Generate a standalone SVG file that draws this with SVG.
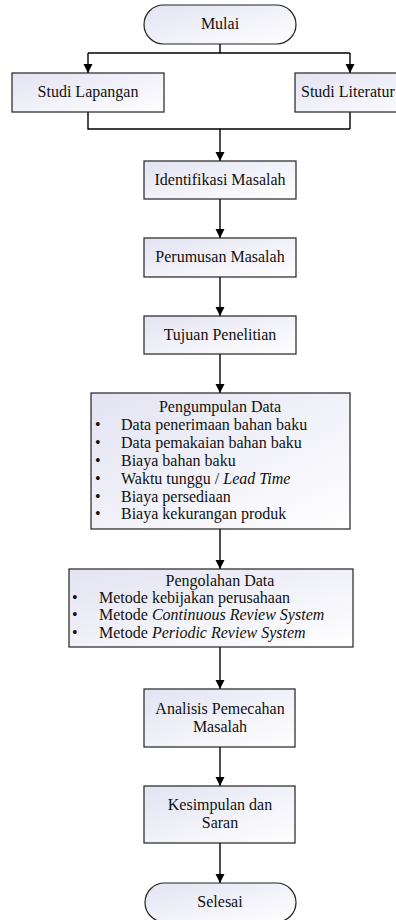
<svg xmlns="http://www.w3.org/2000/svg" width="396" height="920" viewBox="0 0 396 920">
<defs>
<linearGradient id="g" x1="0" y1="0" x2="1" y2="1">
<stop offset="0" stop-color="#e3e3f3"/>
<stop offset="1" stop-color="#ffffff"/>
</linearGradient>
<marker id="ah" viewBox="0 0 10 10" refX="10" refY="5" markerWidth="9" markerHeight="10" markerUnits="userSpaceOnUse" orient="auto">
<path d="M0,0 L10,5 L0,10 z" fill="#000"/>
</marker>
</defs>
<rect width="396" height="920" fill="#fff"/>
<g id="connectors" stroke="#000" stroke-width="1.4" fill="none">
<path d="M220,44 V53 M88,53 H350"/>
<path d="M88,53 V73" marker-end="url(#ah)"/>
<path d="M350,53 V73" marker-end="url(#ah)"/>
<path d="M88,112 V129 H350 M350,112 V129"/>
<path d="M220,129 V161" marker-end="url(#ah)"/>
<path d="M220,199 V238" marker-end="url(#ah)"/>
<path d="M220,277 V316" marker-end="url(#ah)"/>
<path d="M220,354 V393" marker-end="url(#ah)"/>
<path d="M220,529 V569" marker-end="url(#ah)"/>
<path d="M220,647 V689" marker-end="url(#ah)"/>
<path d="M220,747 V786" marker-end="url(#ah)"/>
<path d="M220,843 V883" marker-end="url(#ah)"/>
</g>
<g id="nodes" font-size="16" font-family="Liberation Serif, serif">
<g id="mulai">
<rect fill="url(#g)" stroke="#222" stroke-width="1.2" x="144" y="5" width="152" height="39" rx="19.5"/>
<text font-family="Liberation Serif, serif" fill="#111" text-anchor="middle" x="220" y="29">Mulai</text>
</g>
<g id="studi-lapangan">
<rect fill="url(#g)" stroke="#222" stroke-width="1.2" x="12" y="73" width="152" height="39"/>
<text font-family="Liberation Serif, serif" fill="#111" text-anchor="middle" x="88" y="97">Studi Lapangan</text>
</g>
<g id="studi-literatur">
<rect fill="url(#g)" stroke="#222" stroke-width="1.2" x="295" y="73" width="152" height="39"/>
<text font-family="Liberation Serif, serif" fill="#111" x="301" y="97">Studi Literatur</text>
</g>
<g id="identifikasi">
<rect fill="url(#g)" stroke="#222" stroke-width="1.2" x="144" y="161" width="152" height="38"/>
<text font-family="Liberation Serif, serif" fill="#111" text-anchor="middle" x="220" y="185">Identifikasi Masalah</text>
</g>
<g id="perumusan">
<rect fill="url(#g)" stroke="#222" stroke-width="1.2" x="144" y="238" width="152" height="39"/>
<text font-family="Liberation Serif, serif" fill="#111" text-anchor="middle" x="220" y="262">Perumusan Masalah</text>
</g>
<g id="tujuan">
<rect fill="url(#g)" stroke="#222" stroke-width="1.2" x="144" y="316" width="152" height="38"/>
<text font-family="Liberation Serif, serif" fill="#111" text-anchor="middle" x="220" y="340">Tujuan Penelitian</text>
</g>
<g id="pengumpulan">
<rect fill="url(#g)" stroke="#222" stroke-width="1.2" x="91" y="393" width="259" height="136"/>
<text font-family="Liberation Serif, serif" fill="#111" text-anchor="middle" x="220" y="412">Pengumpulan Data</text>
<text font-family="Liberation Serif, serif" fill="#111" x="95" y="430">•</text>
<text font-family="Liberation Serif, serif" fill="#111" x="121" y="430">Data penerimaan bahan baku</text>
<text font-family="Liberation Serif, serif" fill="#111" x="95" y="448">•</text>
<text font-family="Liberation Serif, serif" fill="#111" x="121" y="448">Data pemakaian bahan baku</text>
<text font-family="Liberation Serif, serif" fill="#111" x="95" y="466">•</text>
<text font-family="Liberation Serif, serif" fill="#111" x="121" y="466">Biaya bahan baku</text>
<text font-family="Liberation Serif, serif" fill="#111" x="95" y="484">•</text>
<text font-family="Liberation Serif, serif" fill="#111" x="121" y="484">Waktu tunggu / <tspan font-style="italic">Lead Time</tspan></text>
<text font-family="Liberation Serif, serif" fill="#111" x="95" y="502">•</text>
<text font-family="Liberation Serif, serif" fill="#111" x="121" y="502">Biaya persediaan</text>
<text font-family="Liberation Serif, serif" fill="#111" x="95" y="519">•</text>
<text font-family="Liberation Serif, serif" fill="#111" x="121" y="519">Biaya kekurangan produk</text>
</g>
<g id="pengolahan">
<rect fill="url(#g)" stroke="#222" stroke-width="1.2" x="69" y="569" width="284" height="78"/>
<text font-family="Liberation Serif, serif" fill="#111" text-anchor="middle" x="220" y="586">Pengolahan Data</text>
<text font-family="Liberation Serif, serif" fill="#111" x="72" y="603">•</text>
<text font-family="Liberation Serif, serif" fill="#111" x="99" y="603">Metode kebijakan perusahaan</text>
<text font-family="Liberation Serif, serif" fill="#111" x="72" y="620">•</text>
<text font-family="Liberation Serif, serif" fill="#111" x="99" y="620">Metode <tspan font-style="italic">Continuous Review System</tspan></text>
<text font-family="Liberation Serif, serif" fill="#111" x="72" y="638">•</text>
<text font-family="Liberation Serif, serif" fill="#111" x="99" y="638">Metode <tspan font-style="italic">Periodic Review System</tspan></text>
</g>
<g id="analisis">
<rect fill="url(#g)" stroke="#222" stroke-width="1.2" x="144" y="689" width="151" height="58"/>
<text font-family="Liberation Serif, serif" fill="#111" text-anchor="middle" x="220" y="714">Analisis Pemecahan</text>
<text font-family="Liberation Serif, serif" fill="#111" text-anchor="middle" x="220" y="732">Masalah</text>
</g>
<g id="kesimpulan">
<rect fill="url(#g)" stroke="#222" stroke-width="1.2" x="144" y="786" width="151" height="57"/>
<text font-family="Liberation Serif, serif" fill="#111" text-anchor="middle" x="220" y="810">Kesimpulan dan</text>
<text font-family="Liberation Serif, serif" fill="#111" text-anchor="middle" x="220" y="828">Saran</text>
</g>
<g id="selesai">
<rect fill="url(#g)" stroke="#222" stroke-width="1.2" x="145" y="883" width="151" height="39" rx="19.5"/>
<text font-family="Liberation Serif, serif" fill="#111" text-anchor="middle" x="220" y="907">Selesai</text>
</g>
</g>
</svg>
